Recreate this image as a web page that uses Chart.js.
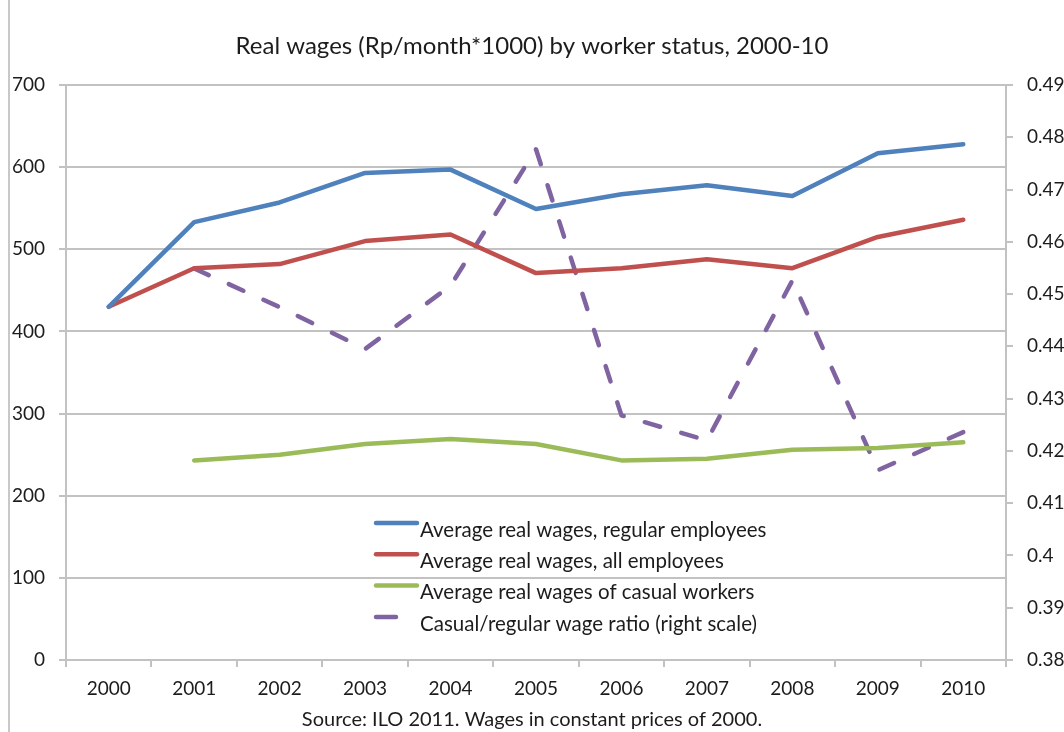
<!DOCTYPE html>
<html>
<head>
<meta charset="utf-8">
<script src="https://cdn.jsdelivr.net/npm/chart.js@4/dist/chart.umd.min.js"></script>
<style>
  html, body { margin: 0; padding: 0; background: #fff; }
  #wrap { position: relative; width: 1064px; height: 732px; }
</style>
</head>
<body>
<div id="wrap"><canvas id="grafico" width="1064" height="732"></canvas></div>
<script>
// anos e series (Rp/mes*1000, razao no eixo direito)
var anos = ["2000", "2001", "2002", "2003", "2004", "2005", "2006", "2007", "2008", "2009", "2010"];
var salarioRegular = [430, 533, 557, 593, 597, 549, 567, 578, 565, 617, 628];
var salarioTodos = [430, 477, 482, 510, 518, 471, 477, 488, 477, 515, 536];
var salarioCasual = [null, 243, 250, 263, 269, 263, 243, 245, 256, 258, 265];
var razaoCasualRegular = [null, 0.4549, 0.4475, 0.4395, 0.4516, 0.4777, 0.4268, 0.4220, 0.4526, 0.4163, 0.4236];

var nomesSeries = [
	"Average real wages, regular employees",
	"Average real wages, all employees",
	"Average real wages of casual workers",
	"Casual/regular wage ratio (right scale)"
];

var fonte = "Lato, 'Open Sans', sans-serif";
var corTexto = "#1c1c1c";
var corGrade = "#c2c2c2";

// fundo branco e a borda da esquerda
var fundo = {
	id: "fundo",
	beforeDraw: function (chart) {
		var ctx = chart.ctx;
		ctx.save();
		ctx.fillStyle = "#fff";
		ctx.fillRect(0, 0, chart.width, chart.height);
		ctx.fillStyle = "#c8c8c8";
		ctx.fillRect(8, 0, 2, chart.height);
		ctx.restore();
	}
};

// legenda desenhada dentro da area do grafico
var legendaInterna = {
	id: "legendaInterna",
	afterDraw: function (chart) {
		var ctx = chart.ctx;
		var x = 374, y = 523, passo = 31.3;
		ctx.save();
		ctx.font = "20.5px " + fonte;
		ctx.textBaseline = "middle";
		ctx.fillStyle = corTexto;
		chart.data.datasets.forEach(function (ds, i) {
			var yy = y + i * passo;
			ctx.strokeStyle = ds.borderColor;
			ctx.lineWidth = 4.5;
			ctx.lineCap = "round";
			ctx.beginPath();
			if (ds.borderDash) {
				ctx.moveTo(x + 2, yy);
				ctx.lineTo(x + 22, yy);
			} else {
				ctx.moveTo(x + 2, yy);
				ctx.lineTo(x + 43, yy);
			}
			ctx.stroke();
			ctx.fillText(ds.label, x + 46, yy + 7);
		});
		ctx.restore();
	}
};

function serie(label, dados, cor, eixo, tracejado) {
	var s = {
		label: label,
		data: dados,
		borderColor: cor,
		backgroundColor: cor,
		borderWidth: 4.5,
		pointRadius: 0,
		pointHoverRadius: 0,
		tension: 0,
		fill: false,
		spanGaps: false,
		borderCapStyle: "round",
		borderJoinStyle: "round",
		yAxisID: eixo
	};
	if (tracejado) {
		s.borderDash = [16, 22];
	}
	return s;
}

var contexto = document.getElementById("grafico");
new Chart(contexto, {
	type: "line",
	data: {
		labels: anos,
		datasets: [
			serie(nomesSeries[0], salarioRegular, "#4F81BD", "y", false),
			serie(nomesSeries[1], salarioTodos, "#C0504D", "y", false),
			serie(nomesSeries[2], salarioCasual, "#9BBB59", "y", false),
			serie(nomesSeries[3], razaoCasualRegular, "#8064A2", "y1", true)
		]
	},
	options: {
		responsive: false,
		animation: false,
		layout: { padding: { left: 0, right: 0, top: 0, bottom: 0 } },
		plugins: {
			legend: { display: false },
			tooltip: { enabled: false },
			title: {
				display: true,
				text: "Real wages (Rp/month*1000) by worker status, 2000-10",
				color: corTexto,
				font: { family: fonte, size: 24, weight: "normal", lineHeight: 1.2 },
				padding: { top: 31.6, bottom: 24.6 }
			},
			subtitle: {
				display: true,
				position: "bottom",
				text: "Source: ILO 2011. Wages in constant prices of 2000.",
				color: corTexto,
				font: { family: fonte, size: 20, weight: "normal", lineHeight: 1.2 },
				padding: { top: 0, bottom: 0 }
			}
		},
		scales: {
			x: {
				type: "category",
				offset: true,
				grid: {
					offset: true,
					drawOnChartArea: false,
					tickLength: 7,
					color: corGrade,
					lineWidth: 2
				},
				border: { color: corGrade, width: 2 },
				ticks: {
					color: corTexto,
					font: { family: fonte, size: 19 },
					padding: 10,
					maxRotation: 0,
					autoSkip: false
				},
				afterFit: function (s) { s.height = 48; }
			},
			y: {
				position: "left",
				min: 0,
				max: 700,
				grid: { color: corGrade, lineWidth: 2, tickLength: 7 },
				border: { color: corGrade, width: 2 },
				ticks: {
					stepSize: 100,
					color: corTexto,
					font: { family: fonte, size: 19 },
					padding: 14
				},
				afterFit: function (s) { s.width = 66; }
			},
			y1: {
				position: "right",
				min: 0.38,
				max: 0.49,
				grid: { drawOnChartArea: false, color: corGrade, lineWidth: 2, tickLength: 7 },
				border: { color: corGrade, width: 2 },
				ticks: {
					stepSize: 0.01,
					maxTicksLimit: 20,
					color: corTexto,
					font: { family: fonte, size: 19 },
					padding: 14,
					callback: function (v) { return String(Number(v.toFixed(2))); }
				},
				afterFit: function (s) { s.width = 58; }
			}
		}
	},
	plugins: [fundo, legendaInterna]
});
</script>
</body>
</html>
